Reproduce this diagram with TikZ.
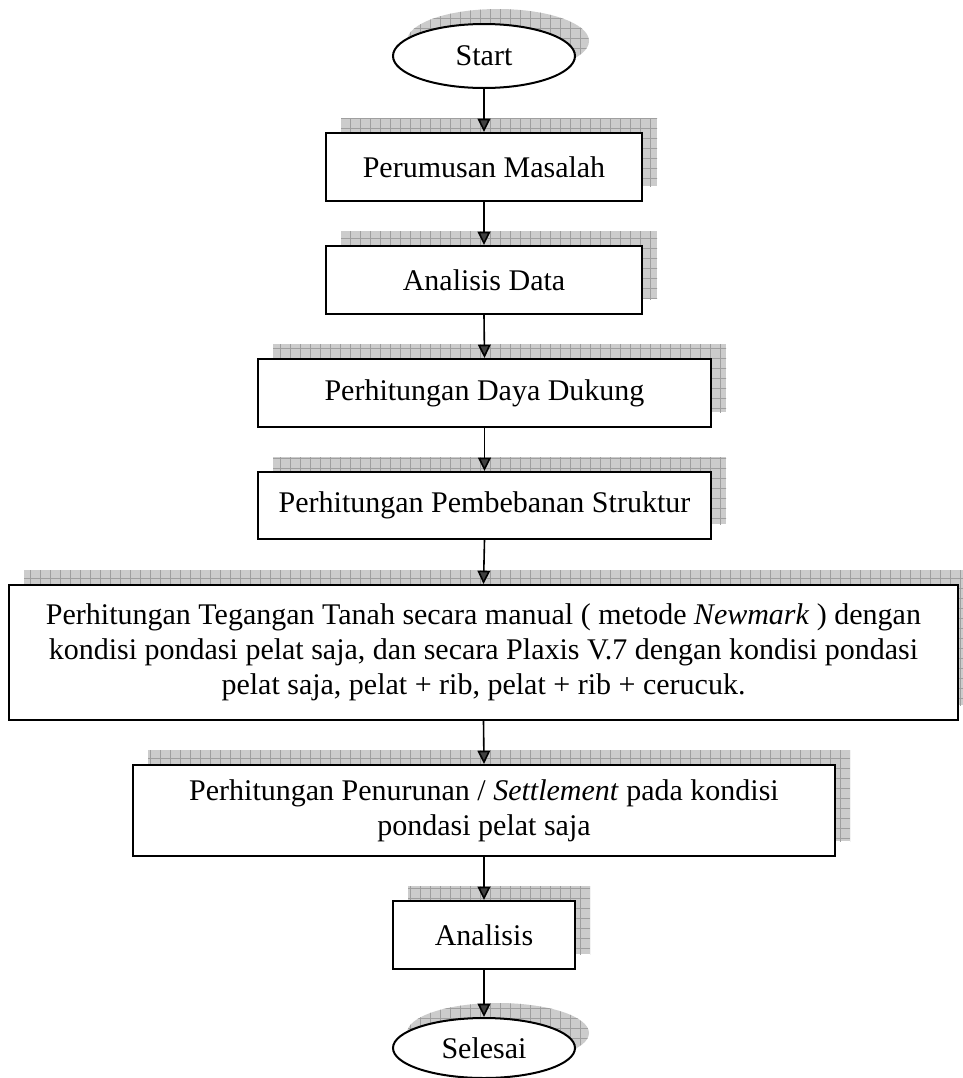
\documentclass[tikz,border=0pt]{standalone}
\usepackage{fontspec}
\setmainfont{Liberation Serif}
\usetikzlibrary{shapes.geometric,patterns.meta,arrows.meta}
\begin{document}
\begin{tikzpicture}[x=0.75pt,y=-0.75pt,
  every node/.style={font=\fontsize{22.5pt}{26.25pt}\selectfont, inner sep=0pt, align=center},
  procbox/.style={draw=black, line width=1.5pt, fill=white, rectangle},
  termbox/.style={draw=black, line width=1.5pt, fill=white, ellipse},
  shad/.style={draw=none, fill=gray!40,
    postaction={pattern={Hatch[angle=0,distance=7.5pt,line width=0.6pt]}, pattern color=gray!75}},
  flow/.style={draw=black, line width=1.2pt, -{Triangle[width=9.5pt,length=10pt,fill=black!75]}}
]
\useasboundingbox (0,0) rectangle (963,1078);
% shadows
\node[shad, ellipse, minimum width=136.5pt, minimum height=48pt] (s0) at (498,41) {};
\node[shad, rectangle, minimum width=237pt, minimum height=51pt] (s1) at (499,152) {};
\node[shad, rectangle, minimum width=237pt, minimum height=51pt] (s2) at (499,265) {};
\node[shad, rectangle, minimum width=339.75pt, minimum height=51pt] (s3) at (499.5,378) {};
\node[shad, rectangle, minimum width=339.75pt, minimum height=50.25pt] (s4) at (499.5,490.5) {};
\node[shad, rectangle, minimum width=711.75pt, minimum height=101.25pt] (s5) at (498.5,637.5) {};
\node[shad, rectangle, minimum width=526.5pt, minimum height=68.25pt] (s6) at (499,795.5) {};
\node[shad, rectangle, minimum width=136.5pt, minimum height=51pt] (s7) at (499,920) {};
\node[shad, ellipse, minimum width=136.5pt, minimum height=45pt] (s8) at (498,1033) {};
% nodes
\node[termbox, minimum width=136.5pt, minimum height=48pt] (start) at (484,56) {Start};
\node[procbox, minimum width=237pt, minimum height=51pt] (a) at (484,167) {Perumusan Masalah};
\node[procbox, minimum width=237pt, minimum height=51pt] (b) at (484,280) {Analisis Data};
\node[procbox, minimum width=339.75pt, minimum height=51pt] (c) at (484.5,393) {Perhitungan Daya Dukung};
\node[procbox, minimum width=339.75pt, minimum height=50.25pt] (d) at (484.5,505.5) {Perhitungan Pembebanan Struktur};
\node[procbox, minimum width=711.75pt, minimum height=101.25pt] (e) at (483.5,652.5)
  {Perhitungan Tegangan Tanah secara manual ( metode \textit{Newmark} ) dengan\\
   kondisi pondasi pelat saja, dan secara Plaxis V.7 dengan kondisi pondasi\\
   pelat saja, pelat + rib, pelat + rib + cerucuk.};
\node[procbox, minimum width=526.5pt, minimum height=68.25pt] (f) at (484,810.5)
  {Perhitungan Penurunan / \textit{Settlement} pada kondisi\\ pondasi pelat saja};
\node[procbox, minimum width=136.5pt, minimum height=51pt] (g) at (484,935) {Analisis};
\node[termbox, minimum width=136.5pt, minimum height=45pt] (end) at (484,1048) {Selesai};
% connectors
\draw[flow] (start.south) -- (a.north);
\draw[flow] (a.south) -- (b.north);
\draw[flow] (b.south) -- (c.north);
\draw[flow] (c.south) -- (d.north);
\draw[flow] (d.south) -- (e.north);
\draw[flow] (e.south) -- (f.north);
\draw[flow] (f.south) -- (g.north);
\draw[flow] (g.south) -- (end.north);
\end{tikzpicture}
\end{document}
